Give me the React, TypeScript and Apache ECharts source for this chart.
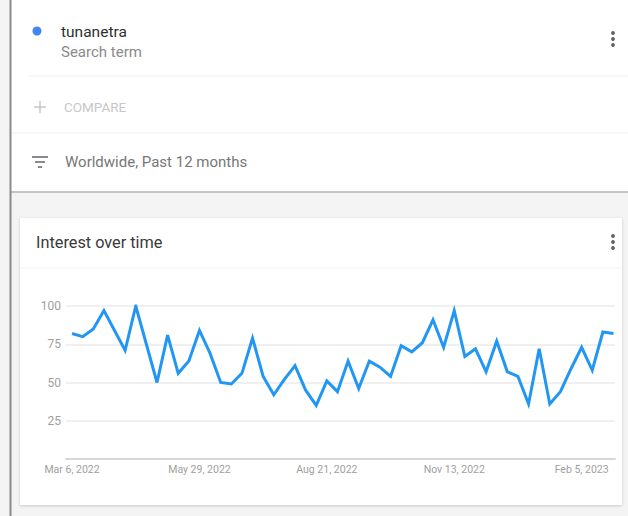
import React, { useEffect, useRef } from "react";
import * as echarts from "echarts";

const dates = [
  "2022-03-06", "2022-03-13", "2022-03-20", "2022-03-27",
  "2022-04-03", "2022-04-10", "2022-04-17", "2022-04-24",
  "2022-05-01", "2022-05-08", "2022-05-15", "2022-05-22", "2022-05-29",
  "2022-06-05", "2022-06-12", "2022-06-19", "2022-06-26",
  "2022-07-03", "2022-07-10", "2022-07-17", "2022-07-24", "2022-07-31",
  "2022-08-07", "2022-08-14", "2022-08-21", "2022-08-28",
  "2022-09-04", "2022-09-11", "2022-09-18", "2022-09-25",
  "2022-10-02", "2022-10-09", "2022-10-16", "2022-10-23", "2022-10-30",
  "2022-11-06", "2022-11-13", "2022-11-20", "2022-11-27",
  "2022-12-04", "2022-12-11", "2022-12-18", "2022-12-25",
  "2023-01-01", "2023-01-08", "2023-01-15", "2023-01-22", "2023-01-29",
  "2023-02-05", "2023-02-12", "2023-02-19", "2023-02-26",
];

const interest = [
  82, 80, 85, 97, 84, 71, 100, 75, 50, 81,
  56, 64, 84, 69, 50, 49, 56, 79, 54, 42,
  52, 61, 45, 35, 51, 44, 64, 46, 64, 60,
  54, 74, 70, 76, 91, 73, 97, 67, 72, 57,
  77, 57, 54, 36, 72, 36, 44, 59, 73, 58,
  83, 82,
];

const tickDates = ["2022-03-06", "2022-05-29", "2022-08-21", "2022-11-13", "2023-02-05"];
const axisStart = "2022-03-02";
const axisEnd = "2023-02-27";

const searchTerm = "tunanetra";
const termKind = "Search term";
const compareText = "COMPARE";
const filterText = "Worldwide, Past 12 months";
const cardTitle = "Interest over time";

const MONTHS = ["Jan", "Feb", "Mar", "Apr", "May", "Jun", "Jul", "Aug", "Sep", "Oct", "Nov", "Dec"];
const DAY = 86400000;

function ts(s: string): number {
  const [y, m, d] = s.split("-").map(Number);
  return Date.UTC(y, m - 1, d);
}
// day offset from the axis start
function dayOf(s: string): number {
  return Math.round((ts(s) - ts(axisStart)) / DAY);
}
function fmtDay(v: number): string {
  const d = new Date(ts(axisStart) + Math.round(v) * DAY);
  return `${MONTHS[d.getUTCMonth()]} ${d.getUTCDate()}, ${d.getUTCFullYear()}`;
}

const FONT = "Roboto, 'Noto Sans', sans-serif";

function kebab(x: number, y: number) {
  return [-6, 0, 6].map((dy) => ({
    type: "circle",
    shape: { cx: x, cy: y + dy, r: 1.9 },
    style: { fill: "#5f6368" },
  }));
}

export default function App() {
  const ref = useRef<HTMLDivElement>(null);

  useEffect(() => {
    if (!ref.current) return;
    const chart = echarts.init(ref.current, null, { renderer: "svg" });

    const graphics: any[] = [
      // top card
      { type: "rect", shape: { x: 11, y: 0, width: 617, height: 192 }, style: { fill: "#ffffff" }, z: 0 },
      { type: "line", shape: { x1: 11, y1: 192, x2: 628, y2: 192 }, style: { stroke: "#c4c4c4", lineWidth: 2 } },
      { type: "line", shape: { x1: 28, y1: 76, x2: 628, y2: 76 }, style: { stroke: "#f1f1f1", lineWidth: 1 } },
      { type: "line", shape: { x1: 11, y1: 133, x2: 628, y2: 133 }, style: { stroke: "#f1f1f1", lineWidth: 1 } },
      { type: "circle", shape: { cx: 37, cy: 31, r: 4.5 }, style: { fill: "#4285f4" } },
      { type: "text", x: 61, y: 32, style: { text: searchTerm, font: `15.5px ${FONT}`, fill: "#303030", verticalAlign: "middle" } },
      { type: "text", x: 61, y: 52, style: { text: termKind, font: `15px ${FONT}`, fill: "#8a8a8a", verticalAlign: "middle" } },
      ...kebab(613, 39),
      // compare
      { type: "line", shape: { x1: 40, y1: 101, x2: 40, y2: 113 }, style: { stroke: "#bdbdbd", lineWidth: 1.3 } },
      { type: "line", shape: { x1: 34, y1: 107, x2: 46, y2: 107 }, style: { stroke: "#bdbdbd", lineWidth: 1.3 } },
      { type: "text", x: 64, y: 107, style: { text: compareText, font: `13.5px ${FONT}`, fill: "#c8c8c8", verticalAlign: "middle" } },
      // filter
      { type: "line", shape: { x1: 32, y1: 157, x2: 48, y2: 157 }, style: { stroke: "#5f6368", lineWidth: 1.5 } },
      { type: "line", shape: { x1: 35, y1: 162, x2: 45, y2: 162 }, style: { stroke: "#5f6368", lineWidth: 1.5 } },
      { type: "line", shape: { x1: 38, y1: 167, x2: 42, y2: 167 }, style: { stroke: "#5f6368", lineWidth: 1.5 } },
      { type: "text", x: 65, y: 162, style: { text: filterText, font: `15px ${FONT}`, fill: "#777777", verticalAlign: "middle" } },
      // interest card
      {
        type: "rect",
        shape: { x: 20, y: 218, width: 602, height: 287 },
        style: { fill: "#ffffff", shadowBlur: 3, shadowColor: "rgba(0,0,0,0.18)", shadowOffsetY: 1 },
        z: 0,
      },
      { type: "line", shape: { x1: 20, y1: 268, x2: 622, y2: 268 }, style: { stroke: "#f2f2f2", lineWidth: 1 } },
      { type: "text", x: 36, y: 242, style: { text: cardTitle, font: `16.3px ${FONT}`, fill: "#3a3a3a", verticalAlign: "middle" } },
      ...kebab(613, 242),
      // left edge
      { type: "line", shape: { x1: 10.5, y1: 0, x2: 10.5, y2: 516 }, style: { stroke: "#8a8a8a", lineWidth: 2 }, z: 10 },
    ];

    chart.setOption({
      animation: false,
      backgroundColor: "#f4f4f4",
      textStyle: { fontFamily: FONT },
      graphic: { elements: graphics.map((g) => ({ z: 1, silent: true, ...g })) },
      grid: { left: 66, right: 13, top: 306, bottom: 57 },
      xAxis: {
        type: "value",
        min: 0,
        max: dayOf(axisEnd),
        axisLine: { show: true, lineStyle: { color: "#d6d6d6", width: 2 } },
        axisTick: { show: false },
        splitLine: { show: false },
        axisLabel: {
          customValues: tickDates.map(dayOf),
          formatter: (v: number) => fmtDay(v),
          color: "#a0a0a0",
          fontSize: 10.5,
          margin: 5,
        },
      },
      yAxis: {
        type: "value",
        min: 0,
        max: 100,
        interval: 25,
        axisLine: { show: false },
        axisTick: { show: false },
        axisLabel: {
          formatter: (v: number) => (v === 0 ? "" : String(v)),
          color: "#9e9e9e",
          fontSize: 12,
          margin: 5,
        },
        splitLine: { lineStyle: { color: "#ebebeb", width: 1.5 } },
      },
      series: [
        {
          type: "line",
          data: dates.map((d, i) => [dayOf(d), interest[i]]),
          showSymbol: false,
          symbol: "none",
          lineStyle: { color: "#2196f3", width: 3, join: "miter" },
          z: 5,
        },
      ],
    });

    return () => chart.dispose();
  }, []);

  return (
    <div
      ref={ref}
      style={{ position: "fixed", left: 0, top: 0, width: 628, height: 516 }}
    />
  );
}
